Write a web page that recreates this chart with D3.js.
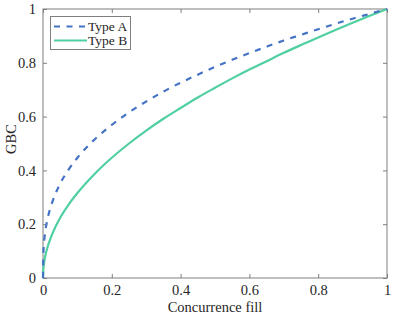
<!DOCTYPE html>
<html><head><meta charset="utf-8">
<script src="https://cdn.jsdelivr.net/npm/d3@7"></script>
<style>body{margin:0;background:#fff;}svg{display:block;}</style>
</head><body><div id="chart"></div>
<script>
const xValues = [0, 0.001, 0.002, 0.005, 0.01, 0.02, 0.03, 0.05, 0.075, 0.1, 0.15, 0.2, 0.25, 0.3, 0.35, 0.4, 0.45, 0.5, 0.55, 0.6, 0.65, 0.7, 0.75, 0.8, 0.85, 0.9, 0.95, 1];
const typeA = [0, 0.089, 0.114, 0.157, 0.200, 0.254, 0.293, 0.351, 0.404, 0.447, 0.515, 0.569, 0.616, 0.656, 0.693, 0.726, 0.756, 0.785, 0.811, 0.836, 0.860, 0.883, 0.904, 0.925, 0.945, 0.964, 0.982, 1];
const typeB = [0, 0.032, 0.045, 0.071, 0.100, 0.141, 0.173, 0.224, 0.274, 0.316, 0.387, 0.447, 0.500, 0.548, 0.592, 0.632, 0.671, 0.707, 0.742, 0.775, 0.806, 0.837, 0.866, 0.894, 0.922, 0.949, 0.975, 1];
const seriesNames = ["Type A", "Type B"];
const xTicks = [0, 0.2, 0.4, 0.6, 0.8, 1];
const yTicks = [0, 0.2, 0.4, 0.6, 0.8, 1];
const xTickLabels = ["0", "0.2", "0.4", "0.6", "0.8", "1"];
const yTickLabels = ["0", "0.2", "0.4", "0.6", "0.8", "1"];
const xTitle = "Concurrence fill";
const yTitle = "GBC";

const W = 395, H = 317;
const m = {left: 43, right: 8, top: 9, bottom: 39};
const font = "'Liberation Serif', 'DejaVu Serif', serif";
const axisColor = "#7f7f7f";
const textColor = "#262626";
const colors = ["#4472C4", "#50D0A0"];

const svg = d3.select("#chart").append("svg").attr("width", W).attr("height", H);
const x = d3.scaleLinear().domain([0, 1]).range([m.left, W - m.right]);
const y = d3.scaleLinear().domain([0, 1]).range([H - m.bottom, m.top]);

const series = [typeA, typeB].map((vals, i) => ({name: seriesNames[i], pts: xValues.map((xv, j) => [xv, vals[j]])}));

const line = d3.line().x(d => x(d[0])).y(d => y(d[1])).curve(d3.curveMonotoneX);

// box
svg.append("rect").attr("x", x(0)).attr("y", y(1)).attr("width", x(1) - x(0)).attr("height", y(0) - y(1))
  .attr("fill", "none").attr("stroke", axisColor).attr("stroke-width", 1);

function styleAxis(g) {
  g.select(".domain").remove();
  g.selectAll(".tick line").attr("stroke", axisColor);
  g.selectAll(".tick text").attr("fill", textColor).style("font-family", font).style("font-size", "14.5px");
}
const xAxis = svg.append("g").attr("transform", `translate(0,${y(0)})`)
  .call(d3.axisBottom(x).tickValues(xTicks).tickFormat((d, i) => xTickLabels[i]).tickSizeInner(-4).tickPadding(7));
styleAxis(xAxis);
const xAxisTop = svg.append("g").attr("transform", `translate(0,${y(1)})`)
  .call(d3.axisTop(x).tickValues(xTicks).tickFormat("").tickSizeInner(-4));
xAxisTop.select(".domain").remove(); xAxisTop.selectAll(".tick line").attr("stroke", axisColor);

const yAxis = svg.append("g").attr("transform", `translate(${x(0)},0)`)
  .call(d3.axisLeft(y).tickValues(yTicks).tickFormat((d, i) => yTickLabels[i]).tickSizeInner(-4).tickPadding(7));
styleAxis(yAxis);
const yAxisR = svg.append("g").attr("transform", `translate(${x(1)},0)`)
  .call(d3.axisRight(y).tickValues(yTicks).tickFormat("").tickSizeInner(-4));
yAxisR.select(".domain").remove(); yAxisR.selectAll(".tick line").attr("stroke", axisColor);

// lines
svg.append("path").datum(series[1].pts).attr("d", line).attr("fill", "none")
  .attr("stroke", colors[1]).attr("stroke-width", 2.2);
svg.append("path").datum(series[0].pts).attr("d", line).attr("fill", "none")
  .attr("stroke", colors[0]).attr("stroke-width", 2.2).attr("stroke-dasharray", "6,6.5");

// titles
svg.append("text").attr("x", (x(0) + x(1)) / 2).attr("y", 312).attr("text-anchor", "middle")
  .attr("fill", textColor).style("font-family", font).style("font-size", "14.5px").text(xTitle);
svg.append("text").attr("transform", `translate(15.5,139) rotate(-90)`).attr("text-anchor", "middle")
  .attr("fill", textColor).style("font-family", font).style("font-size", "14.5px").text(yTitle);

// legend
const lg = svg.append("g");
lg.append("rect").attr("x", 50.5).attr("y", 16.5).attr("width", 80).attr("height", 33)
  .attr("fill", "#fff").attr("stroke", axisColor).attr("stroke-width", 1);
series.forEach((s, i) => {
  const ly = 26.5 + i * 14;
  lg.append("line").attr("x1", 54).attr("x2", 87).attr("y1", ly).attr("y2", ly)
    .attr("stroke", colors[i]).attr("stroke-width", 2.2).attr("stroke-dasharray", i === 0 ? "6,6.5" : null);
  lg.append("text").attr("x", 88).attr("y", ly).attr("dy", "0.35em").attr("fill", textColor)
    .style("font-family", font).style("font-size", "13.5px").text(s.name);
});
</script></body></html>
